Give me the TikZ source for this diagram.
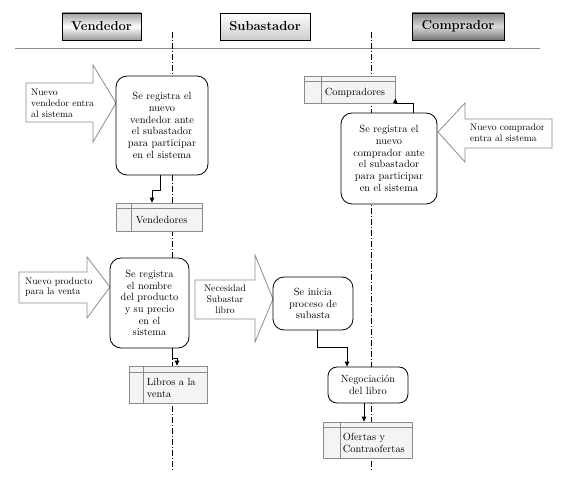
\documentclass[tikz,border=0pt]{standalone}
\usetikzlibrary{arrows.meta,calc}
\definecolor{edgegray}{HTML}{8C8C8C}
\definecolor{tblfill}{HTML}{F4F4F4}
\begin{document}
\begin{tikzpicture}[x=1pt,y=-1pt,
  hdr/.style={draw=black,line width=0.9pt,minimum height=27pt,inner sep=0pt,
    font=\fontsize{13}{15}\selectfont\bfseries},
  proc/.style={draw=black,line width=0.8pt,fill=white,rounded corners=11pt,align=center,
    inner sep=1pt,font=\fontsize{10.4}{11.7}\selectfont},
  tbl/.style={draw=edgegray,line width=0.7pt,fill=tblfill,inner sep=0pt},
  tblline/.style={draw=edgegray,line width=0.7pt},
  tbltext/.style={align=left,inner sep=0pt,font=\fontsize{10.4}{11.7}\selectfont},
  bigarrow/.style={draw=edgegray,line width=0.8pt,fill=white,line join=miter},
  arrtext/.style={align=left,inner sep=0pt,font=\fontsize{9.6}{10.8}\selectfont},
  lane/.style={line width=0.6pt,dash pattern=on 6pt off 2pt on 1pt off 2pt},
  conn/.style={line width=0.8pt,-{Triangle[length=5pt,width=4.5pt]}}
]
\useasboundingbox (0,0) rectangle (572,478);

% headers
\node[hdr,minimum width=79pt,top color=gray!75,bottom color=gray!80,middle color=white] (hV) at (101.5,26.5) {Vendedor};
\node[hdr,minimum width=90pt,top color=white,bottom color=gray!40] (hS) at (265,26.5) {Subastador};
\node[hdr,minimum width=92pt,top color=gray!95,bottom color=gray!110,middle color=gray!30] (hC) at (458,26.5) {Comprador};
\draw[edgegray,line width=0.9pt] (15,48) -- (540,48);

% swim lane separators
\draw[lane] (172,32) -- (172,472);
\draw[lane] (371,32) -- (371,472);

% --- Vendedor registration
\draw[bigarrow] (26,83) -- (93,83) -- (93,65) -- (116,103) -- (93,142) -- (93,122) -- (26,122) -- cycle;
\node[arrtext,anchor=west] (a1) at (31,103) {Nuevo\\vendedor entra\\al sistema};
\node[proc,minimum width=92pt,minimum height=99pt] (b1) at (162,125.5)
  {Se registra el\\nuevo\\vendedor ante\\el subastador\\para participar\\en el sistema};
\node[tbl,minimum width=86pt,minimum height=28pt] (t1) at (159,217) {};
\draw[tblline] ([yshift=-6pt]t1.north west) -- ([yshift=-6pt]t1.north east);
\draw[tblline] ([xshift=16pt]t1.north west) -- ([xshift=16pt]t1.south west);
\node[tbltext,anchor=west] (t1l) at ([xshift=20pt,yshift=-3pt]t1.west) {Vendedores};
\draw[conn] ([xshift=-2pt]b1.south) -- ++(0,15) -| ([xshift=-7pt]t1.north);

% --- Comprador registration
\node[tbl,minimum width=91pt,minimum height=27pt] (t2) at (349.5,89.5) {};
\draw[tblline] ([yshift=-6pt]t2.north west) -- ([yshift=-6pt]t2.north east);
\draw[tblline] ([xshift=18pt]t2.north west) -- ([xshift=18pt]t2.south west);
\node[tbltext,anchor=west] (t2l) at ([xshift=21pt,yshift=-3pt]t2.west) {Compradores};
\node[proc,minimum width=96pt,minimum height=91pt] (b2) at (389,158.5)
  {Se registra el\\nuevo\\comprador ante\\el subastador\\para participar\\en el sistema};
\draw[bigarrow] (552,119) -- (465,119) -- (465,103) -- (438,132) -- (465,162) -- (465,148) -- (552,148) -- cycle;
\node[arrtext,anchor=west] (a2) at (470,133) {Nuevo comprador\\entra al sistema};
\draw[conn] ([xshift=24pt]b2.north) |- (t2.south east) -- ++(0,-5);

% --- Producto
\draw[bigarrow] (19,272) -- (87,272) -- (87,257) -- (110,287) -- (87,318) -- (87,303) -- (19,303) -- cycle;
\node[arrtext,anchor=west] (a3) at (25,287) {Nuevo producto\\para la venta};
\node[proc,minimum width=79pt,minimum height=90pt] (b3) at (149.5,303)
  {Se registra\\el nombre\\del producto\\y su precio\\en el\\sistema};
\node[tbl,minimum width=78pt,minimum height=37pt] (t3) at (168,384.5) {};
\draw[tblline] ([yshift=-7pt]t3.north west) -- ([yshift=-7pt]t3.north east);
\draw[tblline] ([xshift=15pt]t3.north west) -- ([xshift=15pt]t3.south west);
\node[tbltext,anchor=west] (t3l) at ([xshift=18pt,yshift=-3.5pt]t3.west) {Libros a la\\venta};
\draw[conn] ([xshift=22.5pt]b3.south) -- ++(0,10) -| ([xshift=9pt]t3.north);

% --- Subasta
\draw[bigarrow] (195,280) -- (255,280) -- (255,255) -- (273,299) -- (255,342) -- (255,319) -- (195,319) -- cycle;
\node[arrtext,align=center] (a4) at (225,299.5) {Necesidad\\Subastar\\libro};
\node[proc,minimum width=80pt,minimum height=53pt] (b4) at (313,303.5)
  {Se inicia\\proceso de\\subasta};
\node[proc,minimum width=80pt,minimum height=36pt,rounded corners=9pt] (b5) at (368,385)
  {Negociación\\del libro};
\node[tbl,minimum width=89pt,minimum height=36pt] (t5) at (367.5,440) {};
\draw[tblline] ([yshift=-6pt]t5.north west) -- ([yshift=-6pt]t5.north east);
\draw[tblline] ([xshift=18pt]t5.north west) -- ([xshift=18pt]t5.south west);
\node[tbltext,anchor=west] (t5l) at ([xshift=20pt,yshift=-3pt]t5.west) {Ofertas y\\Contraofertas};
\draw[conn] ([xshift=4pt]b4.south) -- ++(0,17) -| ([xshift=-21pt]b5.north);
\draw[conn] ([xshift=-4pt]b5.south) -- ([xshift=-4pt]b5.south |- t5.north);
\end{tikzpicture}
\end{document}
